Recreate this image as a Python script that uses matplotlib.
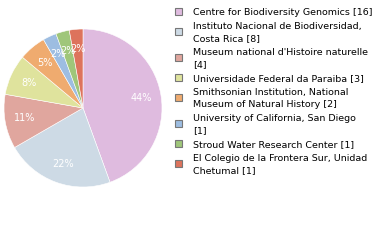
import matplotlib
matplotlib.use('Agg')
import matplotlib.pyplot as plt
from matplotlib.patches import Rectangle

# data
labels = ['Centre for Biodiversity Genomics [16]',
          'Instituto Nacional de Biodiversidad,\nCosta Rica [8]',
          "Museum national d'Histoire naturelle\n[4]",
          'Universidade Federal da Paraiba [3]',
          'Smithsonian Institution, National\nMuseum of Natural History [2]',
          'University of California, San Diego\n[1]',
          'Stroud Water Research Center [1]',
          'El Colegio de la Frontera Sur, Unidad\nChetumal [1]']
counts = [16, 8, 4, 3, 2, 1, 1, 1]
colors = ['#dfbbdf', '#cddae5', '#e0a69e', '#dfe39d',
          '#efab6f', '#9dbde1', '#9fc67a', '#dd735c']

W, H = 380, 240
fig = plt.figure(figsize=(W / 100, H / 100), dpi=100)

# pie: centre (83,108), radius 79 px
cx, cy, r = 83, 108, 79
ax = fig.add_axes([(cx - r) / W, (H - cy - r) / H, 2 * r / W, 2 * r / H])
wedges, texts, autotexts = ax.pie(
    counts, colors=colors, startangle=90, counterclock=False,
    autopct=lambda p: '%d%%' % int(p), pctdistance=0.75, radius=1,
    wedgeprops=dict(linewidth=0.4, edgecolor='white'),
    textprops=dict(color='white', fontsize=7))
ax.set_xlim(-1, 1)
ax.set_ylim(-1, 1)
ax.set_aspect('auto')
ax.axis('off')

# legend drawn by hand
line_h = 12.0
gap = 2.0
y = 11.7  # centre of first text line
for lab, col in zip(labels, colors):
    n = lab.count('\n') + 1
    mid = y + (n - 1) * line_h / 2
    fig.patches.append(Rectangle((174.5 / W, 1 - (mid + 3.5) / H), 7 / W, 7 / H,
                                 transform=fig.transFigure, facecolor=col,
                                 edgecolor='#777777', linewidth=0.8))
    for k, part in enumerate(lab.split('\n')):
        fig.text(193 / W, 1 - (y + k * line_h) / H, part, ha='left',
                 va='center_baseline', fontsize=6.8, color='black')
    y += n * line_h + gap

fig.savefig('out.png', dpi=100)
